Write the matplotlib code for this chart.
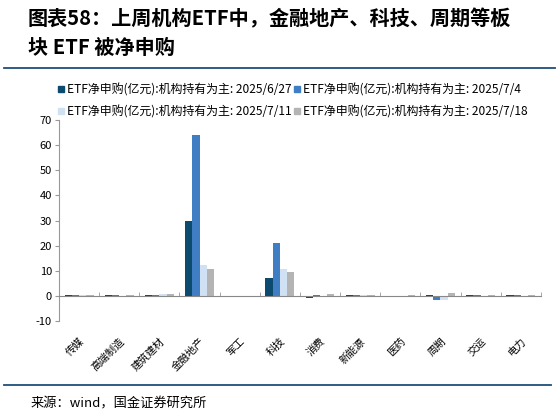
import matplotlib
matplotlib.use("Agg")
import matplotlib.pyplot as plt
from matplotlib.lines import Line2D
import numpy as np

plt.rcParams['font.family'] = ['Noto Sans CJK SC', 'DejaVu Sans']
plt.rcParams['axes.unicode_minus'] = False

categories = ["传媒", "高端制造", "建筑建材", "金融地产", "军工", "科技",
              "消费", "新能源", "医药", "周期", "交运", "电力"]
series_names = ["ETF净申购(亿元):机构持有为主: 2025/6/27",
                "ETF净申购(亿元):机构持有为主: 2025/7/4",
                "ETF净申购(亿元):机构持有为主: 2025/7/11",
                "ETF净申购(亿元):机构持有为主: 2025/7/18"]
s_0627 = [0.3, 0.2, 0.3, 30.0, 0.0, 7.0, -0.8, 0.4, 0.0, 0.5, 0.3, 0.3]
s_0704 = [0.3, 0.2, 0.3, 64.0, 0.0, 21.2, 0.3, 0.2, 0.0, -1.6, 0.3, 0.3]
s_0711 = [0.2, 0.1, 0.7, 12.5, 0.0, 10.7, 0.1, 0.3, 0.0, -1.8, 0.1, -0.3]
s_0718 = [0.2, 0.2, 0.6, 10.8, 0.0, 9.7, 0.7, 0.2, 0.2, 1.2, 0.2, 0.4]
yticks = [-10, 0, 10, 20, 30, 40, 50, 60, 70]

colors = ["#0c4a6e", "#3f7ec2", "#cfe1f3", "#b4b4b4"]

fig = plt.figure(figsize=(5.59, 4.17), dpi=100)
ax = fig.add_axes([0.1055, 0.230, 0.862, 0.482])

x = np.arange(len(categories))
w = 0.18
all_series = [s_0627, s_0704, s_0711, s_0718]
handles = []
for i, (vals, c, name) in enumerate(zip(all_series, colors, series_names)):
    ax.bar(x + (i - 1.5) * w, vals, width=w, color=c, label=name, zorder=2)
    handles.append(Line2D([], [], marker='s', linestyle='none', markersize=5,
                          markerfacecolor=c, markeredgecolor=c, label=name))

ax.set_xlim(-0.5, len(categories) - 0.5)
ax.set_ylim(-10, 70)
ax.set_yticks(yticks)
ax.tick_params(axis='y', labelsize=8, length=3, color='#999999', pad=2)
for s in ['top', 'right']:
    ax.spines[s].set_visible(False)
ax.spines['left'].set_color('#999999')
ax.spines['bottom'].set_position(('data', 0))
ax.spines['bottom'].set_color('#888888')
ax.spines['bottom'].set_zorder(3)

ax.set_xticks(x)
ax.set_xticklabels(categories, rotation=45, ha='right', rotation_mode='anchor',
                   fontsize=7.5)
ax.tick_params(axis='x', which='major', length=0, pad=29)
ax.set_xticks(np.arange(len(categories) + 1) - 0.5, minor=True)
ax.tick_params(axis='x', which='minor', direction='in', length=3, color='#999999')

# row-major legend order (matplotlib fills columns first)
leg_handles = [handles[0], handles[2], handles[1], handles[3]]
fig.legend(handles=leg_handles, loc='upper left', bbox_to_anchor=(0.095, 0.812),
           ncol=2, fontsize=8.6, frameon=False, handlelength=0.6,
           handletextpad=0.15, columnspacing=0.2, labelspacing=0.75,
           borderaxespad=0)

fig.text(0.05, 0.955, "图表58：上周机构ETF中，金融地产、科技、周期等板",
         fontsize=14.5, fontweight='bold', fontstyle='italic', va='center', ha='left')
fig.text(0.05, 0.887, "块 ETF 被净申购",
         fontsize=14.5, fontweight='bold', fontstyle='italic', va='center', ha='left')

fig.add_artist(Line2D([0.008, 0.992], [0.837, 0.837], color='#1f4e79', lw=1.3,
                      transform=fig.transFigure))
fig.add_artist(Line2D([0.008, 0.985], [0.077, 0.077], color='#1f4e79', lw=1.3,
                      transform=fig.transFigure))
fig.text(0.055, 0.030, "来源：wind，国金证券研究所", fontsize=9.5, va='center', ha='left')

fig.savefig("out.png", dpi=100)
